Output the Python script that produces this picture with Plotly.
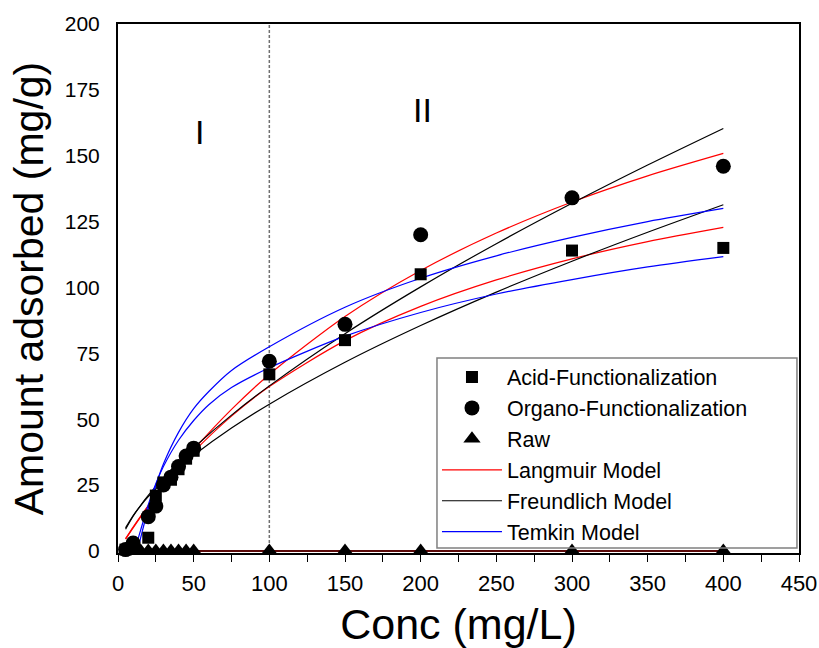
import plotly.graph_objects as go

# Measured equilibrium data (Conc in mg/L, amount adsorbed in mg/g)
acid_conc = [5, 10, 20, 25, 30, 35, 40, 45, 50, 100, 150, 200, 300, 400]
acid_q = [0.5, 0.8, 5, 21, 26, 27, 31, 35, 38, 67, 80, 105, 114, 115]

organo_conc = [5, 10, 20, 25, 30, 35, 40, 45, 50, 100, 150, 200, 300, 400]
organo_q = [0.5, 3, 13, 17, 25, 28, 32, 36, 39, 72, 86, 120, 134, 146]

raw_conc = [5, 10, 15, 20, 25, 30, 35, 40, 45, 50, 100, 150, 200, 300, 400]
raw_q = [0, 0, 0, 0, 0, 0, 0, 0, 0, 0, 0, 0, 0, 0, 0]

# Fitted isotherm curves
model_conc = [5, 10, 15, 20, 30, 40, 50, 75, 100, 150, 200, 250, 300, 350, 400]
langmuir_acid = [4.63, 9.03, 13.21, 17.20, 24.63, 31.42, 37.65, 51.16, 62.36,
                 79.82, 92.81, 102.85, 110.86, 117.38, 122.79]
langmuir_organo = [4.44, 8.73, 12.88, 16.89, 24.53, 31.71, 38.46, 53.70, 66.98,
                   88.96, 106.43, 120.64, 132.44, 142.37, 150.88]
freundlich_acid = [8.72, 13.39, 17.21, 20.57, 26.44, 31.59, 36.27, 46.61, 55.70,
                   71.59, 85.54, 98.23, 109.96, 120.96, 131.40]
freundlich_organo = [8.22, 13.15, 17.31, 21.04, 27.69, 33.66, 39.16, 51.55, 62.64,
                     82.47, 100.22, 116.60, 131.94, 146.47, 160.35]

temkin_acid_conc = [11, 15, 20, 25, 30, 40, 50, 60, 75, 100, 150, 200, 250, 300, 350, 400]
temkin_acid = [0, 8, 17.5, 25.5, 32, 42, 49.5, 55.5, 62, 69.5, 81.5, 90.5, 97.5,
               103, 107.8, 111.7]
temkin_organo_conc = [13, 15, 20, 25, 30, 40, 50, 60, 75, 100, 150, 200, 250, 300, 350, 400]
temkin_organo = [0, 5, 16, 25, 33, 45, 54, 60.5, 68.5, 77.5, 92.5, 103.5, 112,
                 119, 125, 130]

raw_model_conc = [5, 400]
raw_model_q = [0, 0]

FONT = "Arial, Liberation Sans, sans-serif"
RED, BLACK, BLUE = "#ff0000", "#000000", "#0000ff"

fig = go.Figure()


def curve(x, y, color, name, show, rank):
    fig.add_trace(go.Scatter(
        x=x, y=y, mode="lines", name=name, showlegend=show, legendrank=rank,
        line=dict(color=color, width=1.2, shape="spline", smoothing=0.8),
    ))


curve(model_conc, langmuir_acid, RED, "Langmuir Model", True, 4)
curve(model_conc, langmuir_organo, RED, "Langmuir Model", False, 4)
curve(model_conc, freundlich_acid, BLACK, "Freundlich Model", True, 5)
curve(model_conc, freundlich_organo, BLACK, "Freundlich Model", False, 5)
curve(temkin_acid_conc, temkin_acid, BLUE, "Temkin Model", True, 6)
curve(temkin_organo_conc, temkin_organo, BLUE, "Temkin Model", False, 6)

# model fits for the raw material lie on zero
fig.add_trace(go.Scatter(
    x=raw_model_conc, y=raw_model_q, mode="lines", showlegend=False,
    line=dict(color="#5a0808", width=2),
))

fig.add_trace(go.Scatter(
    x=acid_conc, y=acid_q, mode="markers", name="Acid-Functionalization",
    legendrank=1, cliponaxis=False,
    marker=dict(symbol="square", size=12, color="black"),
))
fig.add_trace(go.Scatter(
    x=organo_conc, y=organo_q, mode="markers", name="Organo-Functionalization",
    legendrank=2, cliponaxis=False,
    marker=dict(symbol="circle", size=15, color="black"),
))
fig.add_trace(go.Scatter(
    x=raw_conc, y=raw_q, mode="markers", name="Raw",
    legendrank=3, cliponaxis=False,
    marker=dict(symbol="triangle-up", size=15, color="black"),
))

# boundary between region I and region II
fig.add_shape(type="line", xref="x", yref="paper", x0=100, x1=100, y0=0, y1=1,
              line=dict(color="#707070", width=1.5, dash="3px,2px"), layer="below")

# frame around the legend
fig.add_shape(type="rect", xref="paper", yref="paper",
              x0=0.4684, x1=0.997, y0=0.0095, y1=0.3686,
              line=dict(color="#808080", width=1.5), fillcolor="rgba(0,0,0,0)")

fig.add_annotation(x=54, y=159, text="I", showarrow=False,
                   font=dict(family=FONT, size=34, color="black"))
fig.add_annotation(x=201, y=167.5, text="II", showarrow=False,
                   font=dict(family=FONT, size=34, color="black"))

fig.update_layout(
    width=819, height=648,
    margin=dict(l=118, r=20, t=24, b=95),
    paper_bgcolor="white", plot_bgcolor="white",
    font=dict(family=FONT, color="black"),
    legend=dict(
        x=0.4684, y=0.3715, xanchor="left", yanchor="top",
        bgcolor="rgba(0,0,0,0)", borderwidth=0,
        font=dict(family=FONT, size=21.5, color="black"),
        itemwidth=60, tracegroupgap=0, traceorder="normal",
    ),
    xaxis=dict(
        range=[0, 450], dtick=50, tick0=0, automargin=False,
        showline=True, linecolor="black", linewidth=2, mirror=True,
        ticks="outside", ticklen=7, tickwidth=1.2, tickcolor="black",
        minor=dict(ticks="outside", ticklen=7, tickwidth=1.2, tickcolor="black", dtick=25),
        showgrid=False, zeroline=False,
        tickfont=dict(family=FONT, size=22), ticklabelstandoff=3,
        title=dict(text="Conc (mg/L)", font=dict(family=FONT, size=43), standoff=20),
    ),
    yaxis=dict(
        range=[-0.8, 200], tickvals=[0, 25, 50, 75, 100, 125, 150, 175, 200],
        automargin=False,
        showline=True, linecolor="black", linewidth=2, mirror=True,
        ticks="", showgrid=False, zeroline=False,
        tickfont=dict(family=FONT, size=21), ticklabelstandoff=12,
        title=dict(text="Amount adsorbed (mg/g)", font=dict(family=FONT, size=41), standoff=8),
    ),
)

fig.write_html("out.html")
